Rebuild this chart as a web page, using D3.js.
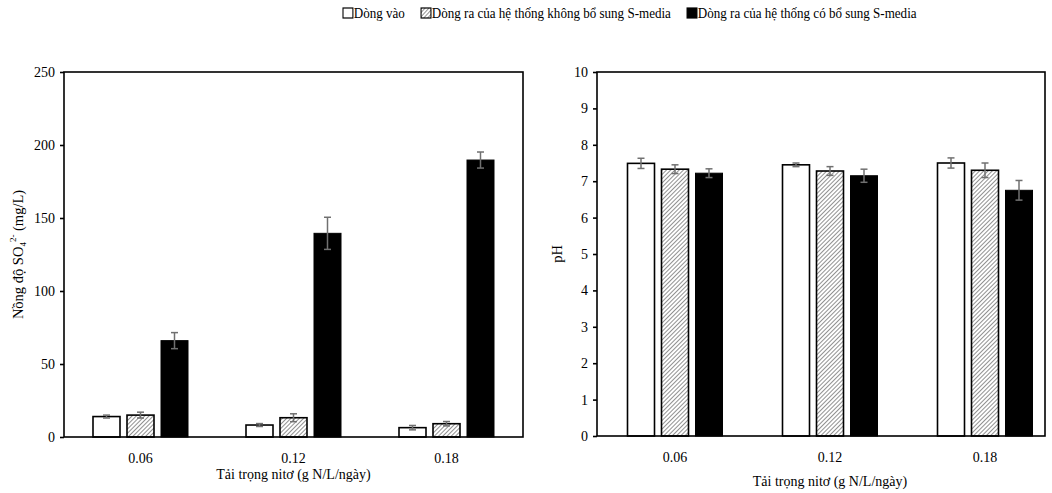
<!DOCTYPE html>
<html>
<head>
<meta charset="utf-8">
<script src="https://cdn.jsdelivr.net/npm/d3@7/dist/d3.min.js"></script>
<style>
  body { margin: 0; background: #fff; }
  svg { display: block; }
  svg text { font-family: "Liberation Serif", Tinos, "Times New Roman", "DejaVu Serif", serif !important; fill: #000; }
</style>
</head>
<body>
<svg id="chart" width="1052" height="493"></svg>
<script>
// Nitrogen loading rates (g N/L/day)
const categories = ["0.06", "0.12", "0.18"];
const seriesNames = [
  "Dòng vào",
  "Dòng ra của hệ thống không bổ sung S-media",
  "Dòng ra của hệ thống có bổ sung S-media"
];

// Sulfate concentration (mg/L) and its standard deviation, per series
const sulfateInflow = [14, 8.2, 6.4];
const sulfateNoMedia = [15, 13.2, 9.1];
const sulfateWithMedia = [66, 139.5, 189.7];
const sulfateInflowErr = [1, 1, 1.5];
const sulfateNoMediaErr = [2, 2.7, 1.5];
const sulfateWithMediaErr = [5.5, 11, 5.5];

// pH and its standard deviation, per series
const phInflow = [7.49, 7.45, 7.5];
const phNoMedia = [7.33, 7.28, 7.3];
const phWithMedia = [7.22, 7.15, 6.75];
const phInflowErr = [0.14, 0.05, 0.14];
const phNoMediaErr = [0.12, 0.12, 0.2];
const phWithMediaErr = [0.12, 0.18, 0.27];

const sulfateTicks = [0, 50, 100, 150, 200, 250];
const phTicks = [0, 1, 2, 3, 4, 5, 6, 7, 8, 9, 10];

const svg = d3.select("#chart");

// Hatch fill for the effluent without S-media
const defs = svg.append("defs");
const pat = defs.append("pattern")
  .attr("id", "hatch")
  .attr("patternUnits", "userSpaceOnUse")
  .attr("width", 3).attr("height", 3)
  .attr("patternTransform", "rotate(45)");
pat.append("rect").attr("width", 3).attr("height", 3).attr("fill", "#fff");
pat.append("line").attr("x1", 0).attr("y1", 0).attr("x2", 0).attr("y2", 3)
  .attr("stroke", "#555").attr("stroke-width", 1.3);

const fills = ["#fff", "url(#hatch)", "#000"];

function panel(opts) {
  const { left, right, top, bottom, xRange, domain, ticks, values, errors,
          yTitleX, xTitleY, tickLabelY, drawYTitle } = opts;

  const x = d3.scaleBand().domain(categories).range(xRange);
  const y = d3.scaleLinear().domain(domain).range([bottom, top]);

  const barW = 27, gap = 7;
  const groupW = barW * 3 + gap * 2;
  const xs = d3.scaleBand().domain(d3.range(3)).range([0, groupW])
    .paddingInner(gap / (barW + gap)).paddingOuter(0);
  const barX = (i, si) => x(categories[i]) + x.bandwidth() / 2 - groupW / 2 + xs(si);

  const g = svg.append("g");

  // bars
  values.forEach((vals, si) => {
    g.selectAll(null).data(vals).enter().append("rect")
      .attr("x", (d, i) => barX(i, si))
      .attr("y", d => y(d))
      .attr("width", xs.bandwidth())
      .attr("height", d => y(0) - y(d))
      .attr("fill", fills[si])
      .attr("stroke", "#000")
      .attr("stroke-width", si === 2 ? 1 : 1.6);
  });

  // error bars
  values.forEach((vals, si) => {
    vals.forEach((v, i) => {
      const cx = barX(i, si) + xs.bandwidth() / 2;
      const e = errors[si][i];
      const eg = g.append("g").attr("stroke", "#707070").attr("stroke-width", 1.5);
      eg.append("line").attr("x1", cx).attr("x2", cx).attr("y1", y(v + e)).attr("y2", y(v - e));
      eg.append("line").attr("x1", cx - 3.5).attr("x2", cx + 3.5).attr("y1", y(v + e)).attr("y2", y(v + e));
      eg.append("line").attr("x1", cx - 3.5).attr("x2", cx + 3.5).attr("y1", y(v - e)).attr("y2", y(v - e));
    });
  });

  // frame
  g.append("rect").attr("x", left).attr("y", top)
    .attr("width", right - left).attr("height", bottom - top)
    .attr("fill", "none").attr("stroke", "#000").attr("stroke-width", 1.6);

  // y axis
  const ya = g.append("g").attr("transform", `translate(${left},0)`)
    .call(d3.axisLeft(y).tickValues(ticks).tickSize(4).tickPadding(5).tickFormat(d3.format("d")));
  ya.select(".domain").remove();
  ya.selectAll("line").attr("stroke", "#000").attr("stroke-width", 1.6);
  ya.selectAll("text").attr("font-size", 14);

  // x tick labels
  const xa = g.append("g").attr("transform", `translate(0,${bottom})`)
    .call(d3.axisBottom(x).tickSize(0).tickPadding(tickLabelY));
  xa.select(".domain").remove();
  xa.selectAll("text").attr("font-size", 14);

  // x title
  g.append("text")
    .attr("x", x(categories[1]) + x.bandwidth() / 2)
    .attr("y", xTitleY).attr("text-anchor", "middle")
    .attr("font-size", 14).text("Tải trọng nitơ (g N/L/ngày)");

  // y title
  const yt = g.append("text")
    .attr("transform", `translate(${yTitleX},${(top + bottom) / 2}) rotate(-90)`)
    .attr("text-anchor", "middle").attr("font-size", 14.5);
  drawYTitle(yt);
}

panel({
  left: 64, right: 523, top: 72, bottom: 437,
  xRange: [64, 523], domain: [0, 250], ticks: sulfateTicks,
  values: [sulfateInflow, sulfateNoMedia, sulfateWithMedia],
  errors: [sulfateInflowErr, sulfateNoMediaErr, sulfateWithMediaErr],
  yTitleX: 23, xTitleY: 479, tickLabelY: 16,
  drawYTitle: t => {
    t.append("tspan").text("Nồng độ SO");
    t.append("tspan").attr("font-size", 9).attr("dy", 3).text("4");
    t.append("tspan").attr("font-size", 9).attr("dy", -10).text("2-");
    t.append("tspan").attr("dy", 7).text(" (mg/L)");
  }
});

panel({
  left: 597, right: 1045, top: 72, bottom: 436,
  xRange: [597.5, 1062.5], domain: [0, 10], ticks: phTicks,
  values: [phInflow, phNoMedia, phWithMedia],
  errors: [phInflowErr, phNoMediaErr, phWithMediaErr],
  yTitleX: 562, xTitleY: 486, tickLabelY: 16,
  drawYTitle: t => t.text("pH")
});

// legend (set in a slightly condensed face)
const legend = svg.append("g").attr("transform", "translate(343,18) scale(0.9,1)");
let lx = 0;
seriesNames.forEach((name, i) => {
  legend.append("rect").attr("x", lx).attr("y", -10).attr("width", 11).attr("height", 10)
    .attr("fill", fills[i]).attr("stroke", "#000").attr("stroke-width", 1.2);
  const t = legend.append("text").attr("x", lx + 12).attr("y", 0)
    .attr("font-size", 14.5).text(name);
  const w = t.node().getComputedTextLength();
  lx += 12 + w + 18;
});
</script>
</body>
</html>
